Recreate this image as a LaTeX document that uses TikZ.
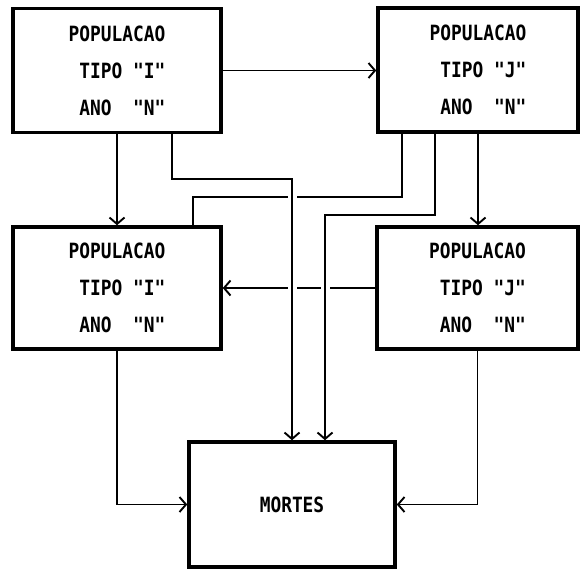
\documentclass[tikz,border=0pt]{standalone}
\usepackage{fontspec}
\newfontfamily\plotfont{DejaVu Sans Mono}[FakeStretch=0.85]
\usetikzlibrary{arrows.meta,backgrounds}
% one fixed-width blank
\newcommand\mspc{\hphantom{0}}
\tikzset{
  box/.style={draw, line width=3.5pt, minimum width=208pt, minimum height=124pt,
    inner sep=0pt, align=left,
    font=\plotfont\bfseries\fontsize{21pt}{37pt}\selectfont},
  conn/.style={line width=1.9pt},
  tip/.style={-{Straight Barb[length=6.5pt,width=15pt,line width=1.9pt]}},
  halo/.style={preaction={draw,white,line width=9pt}}
}
\begin{document}
\begin{tikzpicture}[x=1pt,y=-1pt]
\useasboundingbox (0,0) rectangle (580,571);
% population boxes
\node[box] (b1) at (117,70.5) {POPULACAO\\\mspc TIPO\mspc"I"\\\mspc ANO\mspc\mspc"N"};
\node[box, minimum width=200pt] (b2) at (478,70) {POPULACAO\\\mspc TIPO\mspc"J"\\\mspc ANO\mspc\mspc"N"};
\node[box, minimum height=122pt] (b3) at (117,288) {POPULACAO\\\mspc TIPO\mspc"I"\\\mspc ANO\mspc\mspc"N"};
\node[box, minimum width=201pt, minimum height=122pt] (b4) at (477.5,288) {POPULACAO\\\mspc TIPO\mspc"J"\\\mspc ANO\mspc\mspc"N"};
% deaths
\node[box, minimum width=206pt, minimum height=125pt] (b5) at (292,504.5) {MORTES};
% bends of the routed connectors
\coordinate (j3) at (292,179);
\coordinate (j4) at (193,197);
\coordinate (j5) at (325,215);
\begin{pgfonlayer}{background}
  \draw[conn,tip] (b1.east) -- (b1.east -| b2.west);
  \draw[conn,tip] (b1.south) -- (b3.north);
  \draw[conn,tip] (b2.south) -- (b2.south |- b4.north);
  \draw[conn] ([xshift=-76pt]b2.south) |- (j4) -- (j4 |- b3.north);
  \draw[conn,tip] (b4.west) -- (b3.east);
  \draw[conn,tip] (b3.south) |- (b5.west);
  \draw[conn,tip] (b4.south) |- (b5.east);
  % these two pass over the others, leaving gaps in them
  \draw[conn,halo,tip] ([xshift=55pt]b1.south) |- (j3) -- (b5.north);
  \draw[conn,halo,tip] ([xshift=-43pt]b2.south) |- (j5) -- (j5 |- b5.north);
\end{pgfonlayer}
\end{tikzpicture}
\end{document}
